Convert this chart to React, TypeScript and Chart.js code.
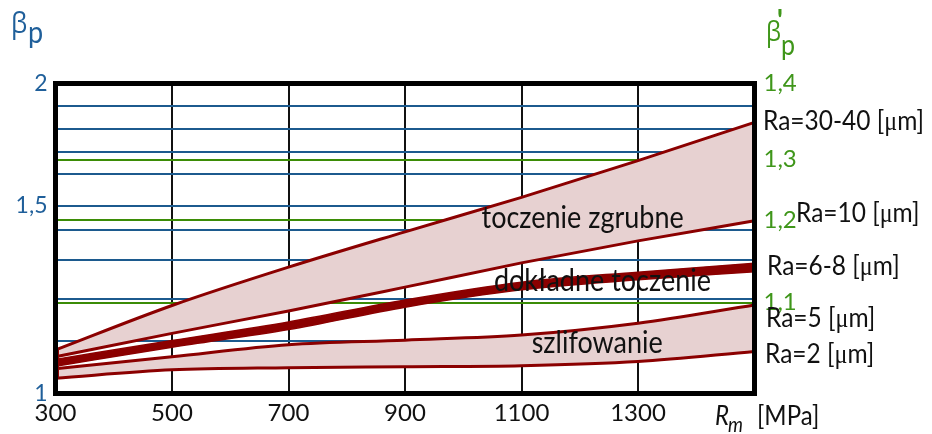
import React, { useEffect, useRef } from 'react';
import { Chart, registerables, LinearScale } from 'chart.js';

// ---------------- data ----------------
const rmValues = [300, 500, 700, 900, 1100, 1300, 1500];
const xTickLabels = ['300', '500', '700', '900', '1100', '1300', ''];

// beta_p values of the boundary curves
const ra30to40 = [1.083, 1.184, 1.282, 1.394, 1.527, 1.661, 1.83];
const ra10 = [1.07, 1.118, 1.171, 1.23, 1.293, 1.364, 1.438];
const ra8 = [1.065, 1.101, 1.145, 1.197, 1.243, 1.269, 1.292];
const ra6 = [1.052, 1.088, 1.127, 1.18, 1.223, 1.249, 1.27];
const ra5 = [1.047, 1.07, 1.093, 1.102, 1.114, 1.142, 1.185];
const ra2 = [1.029, 1.045, 1.049, 1.051, 1.053, 1.061, 1.08];

const betaTicks = [1, 1.1, 1.2, 1.3, 1.4, 1.5, 1.6, 1.7, 1.8, 1.9, 2];
const betaTickLabels = ['1', '', '', '', '', '1,5', '', '', '', '', '2'];
const betaPrimeTicks = [1.1, 1.2, 1.3, 1.4];
const betaPrimeTickLabels = ['1,1', '1,2', '1,3', '1,4'];

const curveLabels = ['Ra=30-40 [', 'Ra=10 [', 'Ra=6-8 [', 'Ra=5 [', 'Ra=2 ['];
const regionLabels = ['toczenie zgrubne', 'dokładne toczenie', 'szlifowanie'];

// ---------------- layout / style ----------------
// the original axes are unevenly divided: fraction of axis height at each tick
const betaAxisValues = betaTicks;
const betaAxisStops = [0, 0.1694, 0.3058, 0.43, 0.5274, 0.6055, 0.7065, 0.7797, 0.8523, 0.9274, 1];
const betaPrimeAxisValues = [1.0, 1.1, 1.2, 1.3, 1.4];
const betaPrimeAxisStops = [0, 0.2929, 0.5597, 0.7548, 1];

const DARK_RED = '#8b0000';
const PINK = '#e7d1d1';
const GRID_BLUE = '#1c5a8e';
const GRID_GREEN = '#3b8c06';
const LABEL_BLUE = '#1f5f9a';
const LABEL_GREEN = '#3f961a';
const FONT = 'Lato, "Open Sans", sans-serif';
const GREEK = '"Open Sans", "DejaVu Sans", sans-serif';
const TEXT_STRETCH = 1.12;

const W = 932;
const H = 434;
const AREA = { left: 55.5, right: 754.5, top: 83.5, bottom: 393.5 };

// label anchors (in data units) for annotation texts
const regionAnchors = [
  { rm: 1205, beta: 1.408 },
  { rm: 1239, beta: 1.22 },
  { rm: 1230, beta: 1.0766 },
];
const curveLabelAnchors = [
  { dx: 8.5, beta: 1.797 },
  { dx: 41.5, beta: 1.432 },
  { dx: 12.5, beta: 1.2616 },
  { dx: 11.5, beta: 1.133 },
  { dx: 10.5, beta: 1.058 },
];

const AXIS_MAPS: Record<string, { values: number[]; stops: number[] }> = {
  y: { values: betaAxisValues, stops: betaAxisStops },
  y2: { values: betaPrimeAxisValues, stops: betaPrimeAxisStops },
};

function interp(v: number, xs: number[], ys: number[]) {
  const n = xs.length;
  let i = 0;
  if (v <= xs[0]) i = 0;
  else if (v >= xs[n - 1]) i = n - 2;
  else {
    while (i < n - 2 && v > xs[i + 1]) i++;
  }
  const t = (v - xs[i]) / (xs[i + 1] - xs[i]);
  return ys[i] + t * (ys[i + 1] - ys[i]);
}

class PiecewiseScale extends LinearScale {
  static id = 'piecewise';
  static defaults = LinearScale.defaults;
  getPixelForValue(value: any) {
    if (value === null || value === undefined || isNaN(value)) return NaN;
    const m = AXIS_MAPS[(this as any).id];
    return (this as any).getPixelForDecimal(interp(value, m.values, m.stops));
  }
  getValueForPixel(pixel: number) {
    const m = AXIS_MAPS[(this as any).id];
    return interp((this as any).getDecimalForPixel(pixel), m.stops, m.values);
  }
}

Chart.register(...registerables, PiecewiseScale as any);

// draw text runs with a slight vertical stretch (the original lettering is tall)
function drawRuns(
  ctx: CanvasRenderingContext2D,
  runs: { t: string; f: string }[],
  x: number,
  y: number,
  color: string,
  align: 'left' | 'center' = 'left'
) {
  ctx.save();
  ctx.fillStyle = color;
  ctx.textAlign = 'left';
  ctx.textBaseline = 'alphabetic';
  let total = 0;
  for (const r of runs) {
    ctx.font = r.f;
    total += ctx.measureText(r.t).width;
  }
  let cx = align === 'center' ? x - total / 2 : x;
  ctx.translate(0, y);
  ctx.scale(1, TEXT_STRETCH);
  for (const r of runs) {
    ctx.font = r.f;
    ctx.fillText(r.t, cx, 0);
    cx += ctx.measureText(r.t).width;
  }
  ctx.restore();
}

const decorations = {
  id: 'decorations',
  afterDraw(chart: any) {
    const { ctx, chartArea: a, scales } = chart;
    const xs = scales.x;
    const ys = scales.y;
    ctx.save();

    // left closing edge of the bands
    const x0 = xs.getPixelForValue(rmValues[0]) + 2;
    ctx.strokeStyle = DARK_RED;
    ctx.lineWidth = 3;
    ctx.beginPath();
    ctx.moveTo(x0, ys.getPixelForValue(ra30to40[0]));
    ctx.lineTo(x0, ys.getPixelForValue(ra2[0]));
    ctx.stroke();

    // frame
    ctx.strokeStyle = '#000';
    ctx.lineWidth = 5;
    ctx.strokeRect(a.left, a.top, a.right - a.left, a.bottom - a.top);

    // region labels
    regionLabels.forEach((s, i) => {
      const p = regionAnchors[i];
      drawRuns(ctx, [{ t: s, f: `27px ${FONT}` }], xs.getPixelForValue(p.rm), ys.getPixelForValue(p.beta), '#111', 'center');
    });

    // curve labels on the right
    curveLabels.forEach((s, i) => {
      const p = curveLabelAnchors[i];
      drawRuns(
        ctx,
        [
          { t: s, f: `24.5px ${FONT}` },
          { t: 'μ', f: '24px "Liberation Serif", serif' },
          { t: 'm]', f: `24.5px ${FONT}` },
        ],
        a.right + p.dx,
        ys.getPixelForValue(p.beta),
        '#111'
      );
    });

    // axis titles
    drawRuns(ctx, [{ t: 'β', f: `26px ${GREEK}` }], 11, 33, LABEL_BLUE);
    drawRuns(ctx, [{ t: 'p', f: `27px ${FONT}` }], 28, 43, LABEL_BLUE);

    drawRuns(ctx, [{ t: 'β', f: `24px ${GREEK}` }], 766, 41, LABEL_GREEN);
    drawRuns(ctx, [{ t: "'", f: `bold 28px ${FONT}` }], 777, 31, LABEL_GREEN);
    drawRuns(ctx, [{ t: 'p', f: `25px ${FONT}` }], 781, 55, LABEL_GREEN);

    drawRuns(ctx, [{ t: 'R', f: `italic 24px ${FONT}` }], 715, 425, '#111');
    drawRuns(ctx, [{ t: 'm', f: `italic 19px ${FONT}` }], 728, 432, '#111');
    drawRuns(ctx, [{ t: '[MPa]', f: `24px ${FONT}` }], 757, 425, '#111');

    ctx.restore();
  },
};

function series(label: string, values: number[], extra: any = {}) {
  return {
    label,
    data: rmValues.map((x, i) => ({ x, y: values[i] })),
    borderColor: DARK_RED,
    borderWidth: 3,
    pointRadius: 0,
    cubicInterpolationMode: 'monotone',
    fill: false,
    yAxisID: 'y',
    ...extra,
  };
}

export default function App() {
  const ref = useRef<HTMLCanvasElement>(null);
  useEffect(() => {
    const canvas = ref.current!;
    const chart = new Chart(canvas, {
      type: 'line',
      data: {
        datasets: [
          series('Ra=30-40', ra30to40, { fill: '+1', backgroundColor: PINK }),
          series('Ra=10', ra10),
          series('Ra=8', ra8, { fill: '+1', backgroundColor: DARK_RED, borderWidth: 1.5 }),
          series('Ra=6', ra6, { borderWidth: 1.5 }),
          series('Ra=5', ra5, { fill: '+1', backgroundColor: PINK }),
          series('Ra=2', ra2),
        ] as any,
      },
      options: {
        responsive: false,
        animation: false,
        devicePixelRatio: 1,
        layout: { padding: { top: AREA.top, left: 0, right: 0, bottom: 0 } },
        plugins: {
          legend: { display: false },
          tooltip: { enabled: false },
          filler: { drawTime: 'beforeDatasetsDraw' },
        },
        scales: {
          x: {
            type: 'linear',
            min: rmValues[0],
            max: rmValues[rmValues.length - 1],
            afterBuildTicks: (s: any) => {
              s.ticks = rmValues.map((v) => ({ value: v }));
            },
            afterFit: (s: any) => {
              s.height = H - AREA.bottom;
            },
            border: { display: false },
            grid: {
              drawTicks: false,
              lineWidth: 2,
              color: (c: any) => (c.index === 0 || c.index === rmValues.length - 1 ? 'rgba(0,0,0,0)' : '#111'),
            },
            ticks: {
              autoSkip: false,
              maxRotation: 0,
              padding: 5,
              color: '#111',
              font: { family: FONT, size: 24 },
              callback: (_v: any, i: number) => xTickLabels[i] ?? '',
            },
          },
          y: {
            type: 'piecewise' as any,
            position: 'left',
            min: betaTicks[0],
            max: betaTicks[betaTicks.length - 1],
            afterBuildTicks: (s: any) => {
              s.ticks = betaTicks.map((v) => ({ value: v }));
            },
            afterFit: (s: any) => {
              s.width = AREA.left;
            },
            border: { display: false },
            grid: {
              drawTicks: false,
              lineWidth: 2,
              color: (c: any) => (c.index === 0 || c.index === betaTicks.length - 1 ? 'rgba(0,0,0,0)' : GRID_BLUE),
            },
            ticks: {
              autoSkip: false,
              padding: 8,
              color: LABEL_BLUE,
              font: { family: FONT, size: 23 },
              callback: (_v: any, i: number) => betaTickLabels[i] ?? '',
            },
          } as any,
          y2: {
            type: 'piecewise' as any,
            position: 'right',
            min: betaPrimeAxisValues[0],
            max: betaPrimeAxisValues[betaPrimeAxisValues.length - 1],
            afterBuildTicks: (s: any) => {
              s.ticks = betaPrimeTicks.map((v) => ({ value: v }));
            },
            afterFit: (s: any) => {
              s.width = W - AREA.right;
            },
            border: { display: false },
            grid: {
              drawTicks: false,
              lineWidth: 2,
              color: (c: any) => (c.index === betaPrimeTicks.length - 1 ? 'rgba(0,0,0,0)' : GRID_GREEN),
            },
            ticks: {
              autoSkip: false,
              padding: 9,
              color: LABEL_GREEN,
              font: { family: FONT, size: 24 },
              callback: (_v: any, i: number) => betaPrimeTickLabels[i] ?? '',
            },
          } as any,
        },
      } as any,
      plugins: [decorations as any],
    });
    return () => chart.destroy();
  }, []);

  return (
    <div style={{ position: 'absolute', left: 0, top: 0, width: W, height: H, background: '#fff' }}>
      <canvas ref={ref} width={W} height={H} style={{ display: 'block', width: W, height: H }} />
    </div>
  );
}
